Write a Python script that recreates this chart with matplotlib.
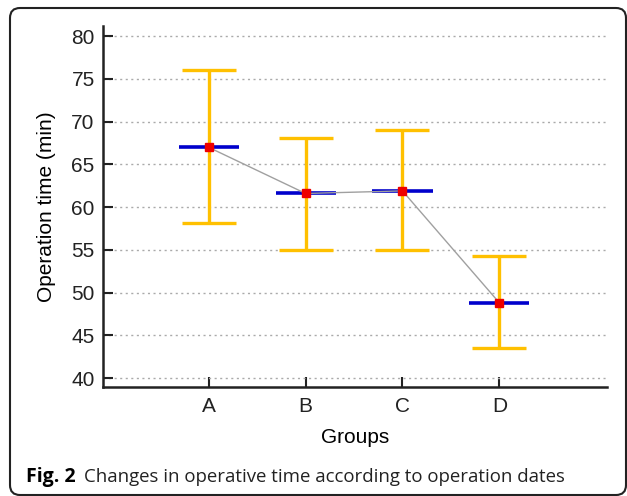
import matplotlib
matplotlib.use('Agg')
import matplotlib.pyplot as plt
from matplotlib.patches import FancyBboxPatch
from matplotlib.transforms import IdentityTransform

groups = ['A', 'B', 'C', 'D']
means = [67.0, 61.6, 61.9, 48.8]
upper = [76.0, 68.1, 69.0, 54.3]
lower = [58.2, 55.0, 55.0, 43.5]

plt.rcParams['font.family'] = ['Liberation Sans', 'DejaVu Sans']

fig = plt.figure(figsize=(6.27, 4.96), dpi=100)
ax = fig.add_axes([0.1643, 0.2198, 0.8037, 0.7278])

x = list(range(len(groups)))
err_lo = [m - l for m, l in zip(means, lower)]
err_hi = [u - m for u, m in zip(upper, means)]

ax.errorbar(x, means, yerr=[err_lo, err_hi], fmt='none', ecolor='#FFC000',
            elinewidth=2.4, capsize=19.5, capthick=2.4, zorder=2)
ax.hlines(means, [i - 0.31 for i in x], [i + 0.31 for i in x],
          colors='#0000CC', linewidth=2.6, zorder=3)
ax.plot(x, means, color='#A0A0A0', linewidth=1, zorder=4)
ax.plot(x, means, 's', color='#EE0000', markersize=6, zorder=5)

ax.set_xlim(-1.09, 4.11)
ax.set_ylim(38.95, 81.2)
ax.set_yticks([40, 45, 50, 55, 60, 65, 70, 75, 80])
ax.set_xticks(x)
ax.set_xticklabels(groups)
ax.grid(axis='y', linestyle=(0, (1.5, 2.5)), color='#AAAAAA', linewidth=1)
ax.set_axisbelow(True)

for side in ['top', 'right']:
    ax.spines[side].set_visible(False)
for side in ['left', 'bottom']:
    ax.spines[side].set_linewidth(1.8)
    ax.spines[side].set_color('#222222')

ax.tick_params(direction='in', length=7, width=1.5, labelsize=15, colors='#222222', pad=6)
ax.tick_params(axis='x', pad=7)
ax.set_ylabel('Operation time (min)', fontsize=15, labelpad=11)
ax.set_xlabel('Groups', fontsize=15, labelpad=9)

fig.text(26 / 627, 1 - 482 / 496, 'Fig. 2', fontsize=14, fontweight='bold',
         family=['Open Sans', 'DejaVu Sans'], va='baseline')
fig.text(84 / 627, 1 - 482 / 496, 'Changes in operative time according to operation dates',
         fontsize=13.4, family=['Open Sans', 'DejaVu Sans'], va='baseline', color='#222222')

box = FancyBboxPatch((10, 1), 616, 487, boxstyle='round,pad=0,rounding_size=10',
                     transform=IdentityTransform(), fill=False, edgecolor='#222222',
                     linewidth=1.5)
fig.patches.append(box)

fig.savefig('out.png', dpi=100)
